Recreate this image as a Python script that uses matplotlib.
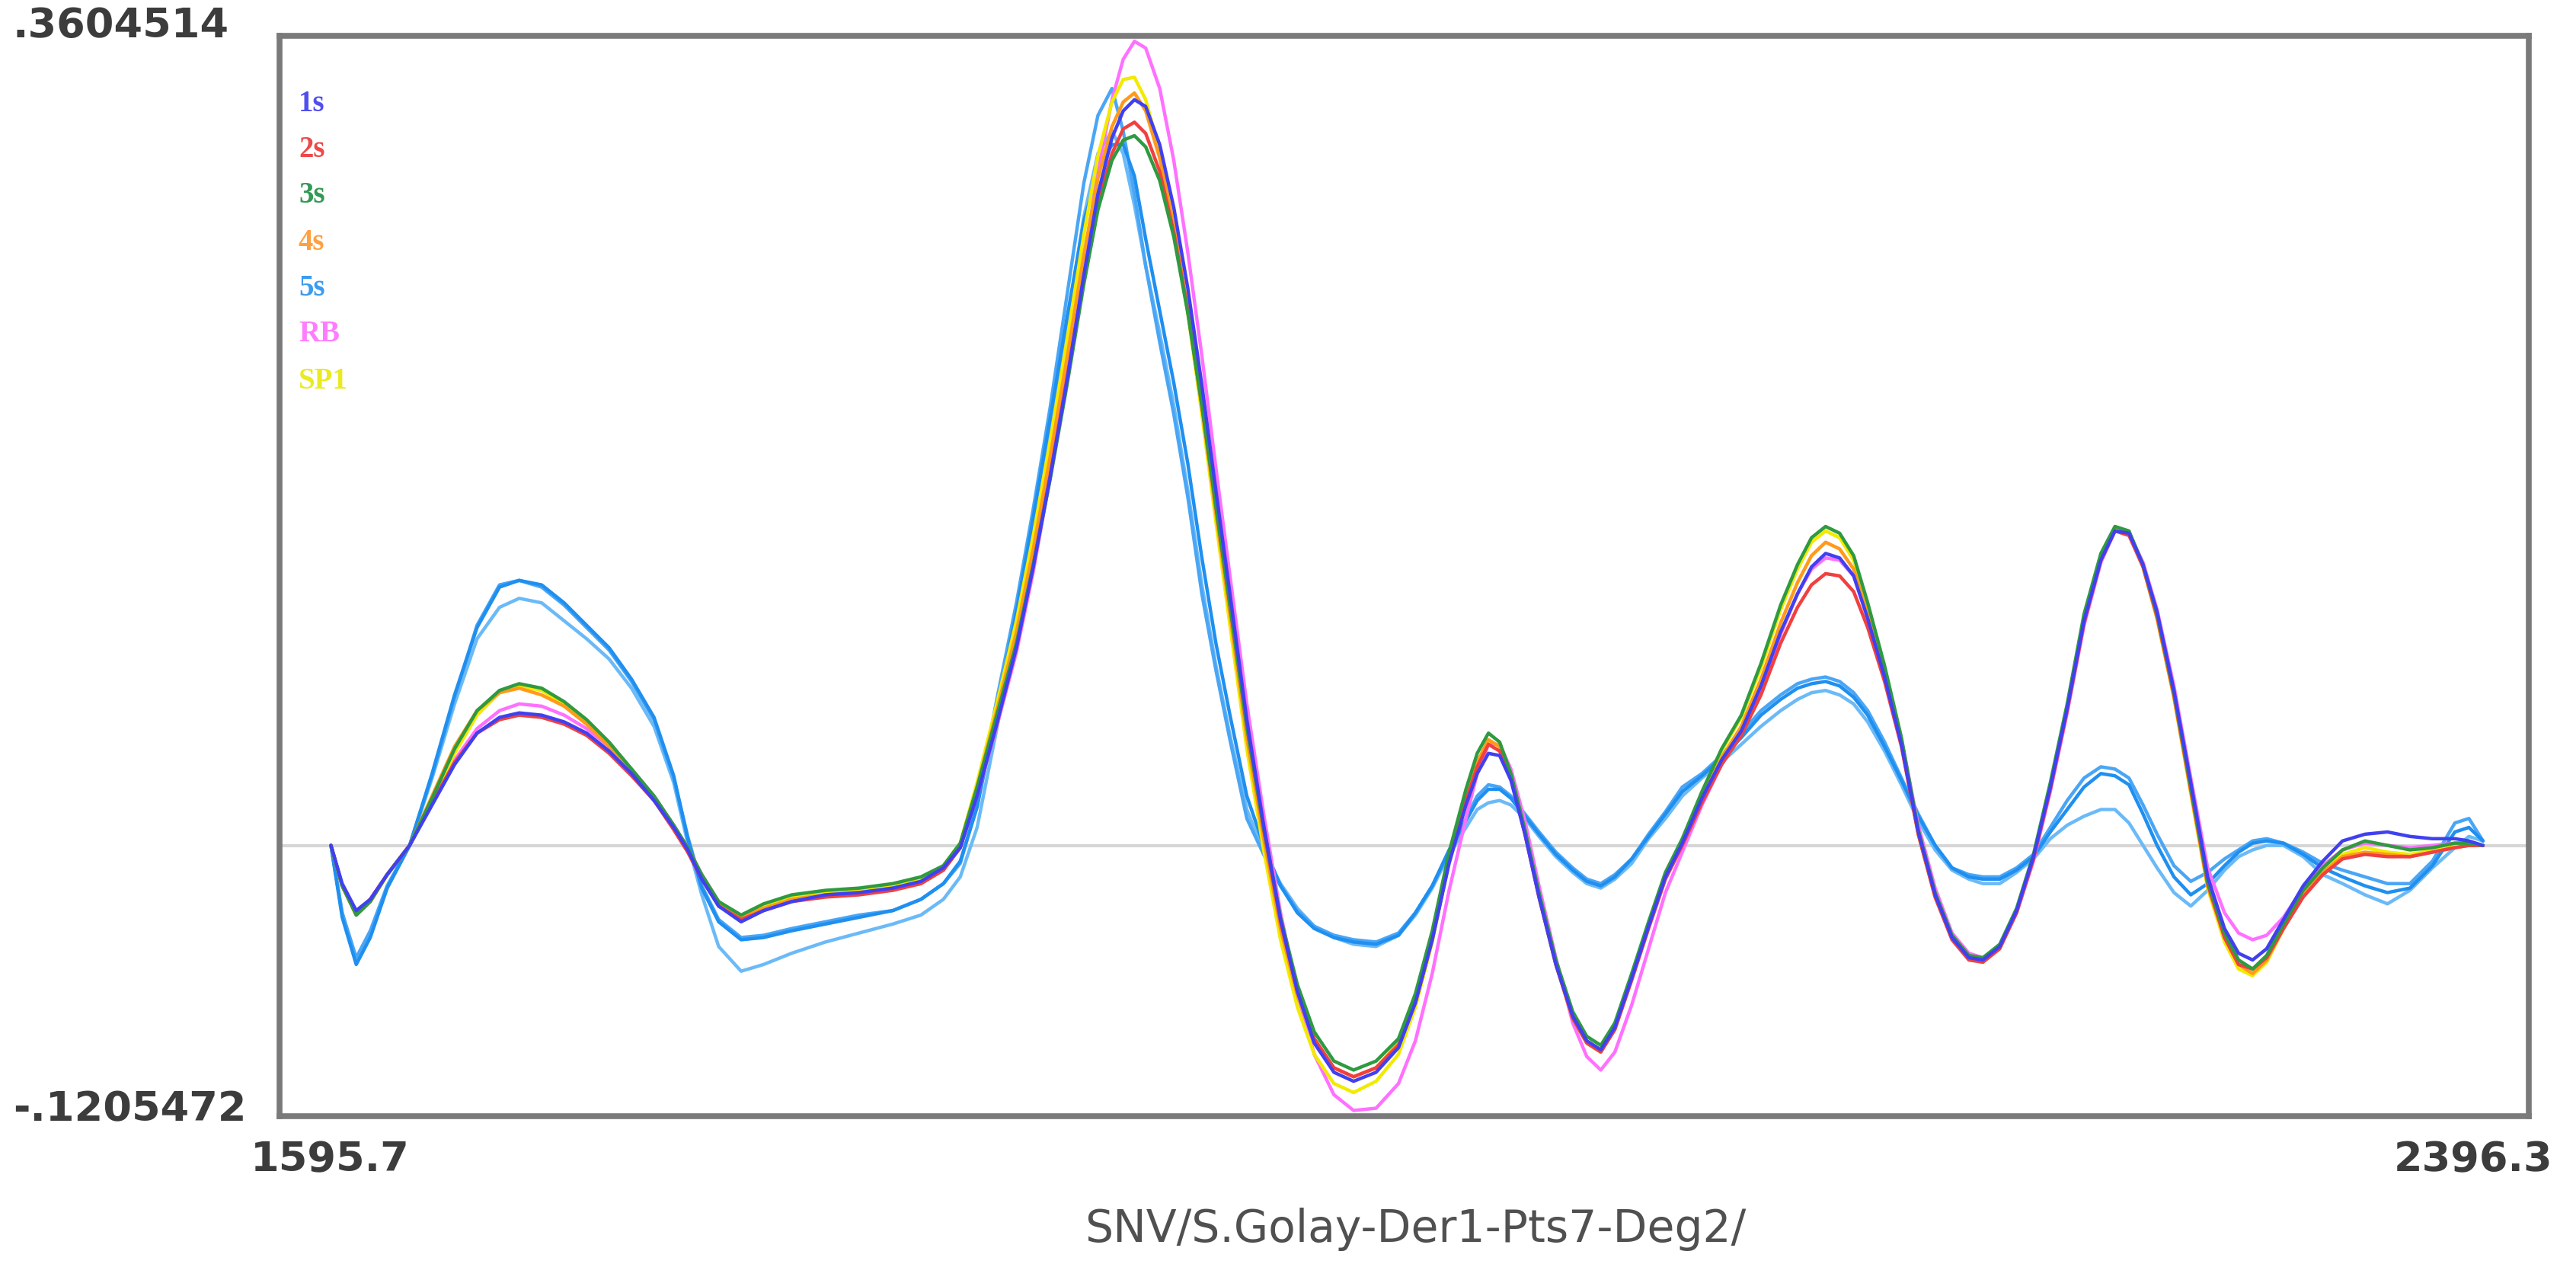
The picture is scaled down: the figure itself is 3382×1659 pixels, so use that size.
import matplotlib
matplotlib.use("Agg")
import matplotlib.pyplot as plt

# ---------------- data ----------------
wavelength = [
    1614, 1618, 1623, 1628, 1634, 1642, 1650, 1658, 1666, 1674,
    1681, 1689, 1697, 1705, 1713, 1721, 1729, 1736, 1741, 1746,
    1752, 1760, 1768, 1778, 1790, 1802, 1814, 1824, 1832, 1838,
    1844, 1851, 1858, 1864, 1870, 1876, 1882, 1887, 1892, 1896,
    1900, 1904, 1909, 1914, 1919, 1924, 1929, 1934, 1940, 1946,
    1952, 1958, 1964, 1971, 1978, 1986, 1994, 2000, 2006, 2012,
    2018, 2022, 2026, 2030, 2034, 2039, 2044, 2050, 2056, 2061,
    2066, 2071, 2077, 2083, 2089, 2095, 2102, 2109, 2116, 2123,
    2130, 2136, 2141, 2146, 2151, 2156, 2161, 2167, 2173, 2179,
    2185, 2191, 2197, 2202, 2208, 2214, 2220, 2226, 2232, 2238,
    2244, 2249, 2254, 2259, 2264, 2270, 2276, 2282, 2288, 2293,
    2298, 2303, 2309, 2316, 2323, 2330, 2338, 2346, 2354, 2362,
    2370, 2375, 2380]

s1 = [
    0.000, -0.017, -0.029, -0.024, -0.013, 0.000, 0.018, 0.036, 0.050, 0.057,
    0.059, 0.058, 0.055, 0.050, 0.042, 0.032, 0.020, 0.008, -0.002, -0.015,
    -0.027, -0.034, -0.029, -0.025, -0.022, -0.021, -0.019, -0.016, -0.010, -0.001,
    0.022, 0.054, 0.088, 0.124, 0.164, 0.207, 0.254, 0.290, 0.315, 0.327,
    0.332, 0.329, 0.312, 0.284, 0.248, 0.205, 0.158, 0.112, 0.056, 0.009,
    -0.033, -0.065, -0.088, -0.101, -0.105, -0.101, -0.090, -0.070, -0.042, -0.008,
    0.018, 0.032, 0.041, 0.040, 0.029, 0.005, -0.023, -0.053, -0.076, -0.087,
    -0.091, -0.081, -0.059, -0.036, -0.014, 0.001, 0.021, 0.038, 0.051, 0.071,
    0.095, 0.112, 0.124, 0.130, 0.128, 0.120, 0.101, 0.075, 0.045, 0.006,
    -0.022, -0.041, -0.050, -0.051, -0.045, -0.029, -0.005, 0.026, 0.061, 0.100,
    0.127, 0.140, 0.139, 0.125, 0.104, 0.069, 0.028, -0.014, -0.037, -0.048,
    -0.051, -0.046, -0.033, -0.018, -0.007, 0.002, 0.005, 0.006, 0.004, 0.003,
    0.003, 0.002, 0.000]

s2 = [
    0.000, -0.018, -0.030, -0.024, -0.013, 0.000, 0.019, 0.037, 0.050, 0.056,
    0.058, 0.057, 0.054, 0.049, 0.041, 0.031, 0.020, 0.007, -0.003, -0.015,
    -0.027, -0.033, -0.029, -0.025, -0.023, -0.022, -0.020, -0.017, -0.011, -0.001,
    0.024, 0.056, 0.089, 0.125, 0.165, 0.208, 0.253, 0.286, 0.308, 0.319,
    0.322, 0.317, 0.300, 0.273, 0.238, 0.196, 0.151, 0.107, 0.053, 0.007,
    -0.034, -0.065, -0.086, -0.099, -0.103, -0.099, -0.089, -0.070, -0.042, -0.007,
    0.020, 0.035, 0.045, 0.042, 0.030, 0.005, -0.023, -0.053, -0.077, -0.088,
    -0.092, -0.082, -0.060, -0.037, -0.015, 0.000, 0.019, 0.036, 0.049, 0.067,
    0.090, 0.106, 0.116, 0.121, 0.120, 0.113, 0.097, 0.073, 0.044, 0.005,
    -0.023, -0.042, -0.051, -0.052, -0.046, -0.030, -0.006, 0.025, 0.060, 0.099,
    0.127, 0.140, 0.138, 0.124, 0.102, 0.067, 0.025, -0.017, -0.041, -0.053,
    -0.055, -0.050, -0.037, -0.023, -0.013, -0.006, -0.004, -0.005, -0.005, -0.003,
    -0.001, 0.000, 0.000]

s3 = [
    0.000, -0.018, -0.031, -0.025, -0.013, 0.000, 0.021, 0.043, 0.060, 0.069,
    0.072, 0.070, 0.064, 0.056, 0.046, 0.034, 0.022, 0.009, -0.001, -0.013,
    -0.025, -0.031, -0.026, -0.022, -0.020, -0.019, -0.017, -0.014, -0.009, 0.001,
    0.026, 0.058, 0.090, 0.125, 0.163, 0.205, 0.250, 0.283, 0.305, 0.314,
    0.316, 0.311, 0.296, 0.271, 0.237, 0.196, 0.151, 0.107, 0.053, 0.008,
    -0.032, -0.062, -0.083, -0.096, -0.100, -0.096, -0.086, -0.066, -0.038, -0.003,
    0.025, 0.041, 0.050, 0.046, 0.032, 0.007, -0.021, -0.051, -0.074, -0.085,
    -0.089, -0.079, -0.057, -0.034, -0.012, 0.003, 0.024, 0.043, 0.058, 0.081,
    0.107, 0.125, 0.137, 0.142, 0.139, 0.129, 0.108, 0.080, 0.048, 0.007,
    -0.021, -0.040, -0.049, -0.050, -0.044, -0.028, -0.004, 0.028, 0.063, 0.103,
    0.130, 0.142, 0.140, 0.125, 0.103, 0.068, 0.026, -0.016, -0.039, -0.051,
    -0.055, -0.049, -0.035, -0.020, -0.010, -0.002, 0.002, 0.000, -0.002, -0.001,
    0.001, 0.001, 0.000]

s4 = [
    0.000, -0.018, -0.031, -0.025, -0.013, 0.000, 0.022, 0.044, 0.060, 0.068,
    0.070, 0.067, 0.062, 0.054, 0.044, 0.033, 0.021, 0.008, -0.002, -0.014,
    -0.026, -0.032, -0.028, -0.024, -0.022, -0.021, -0.019, -0.017, -0.011, -0.001,
    0.026, 0.060, 0.095, 0.132, 0.173, 0.217, 0.263, 0.297, 0.320, 0.331,
    0.335, 0.327, 0.306, 0.276, 0.239, 0.195, 0.148, 0.103, 0.048, 0.003,
    -0.037, -0.067, -0.087, -0.099, -0.103, -0.099, -0.088, -0.069, -0.041, -0.006,
    0.022, 0.037, 0.047, 0.044, 0.031, 0.006, -0.022, -0.052, -0.075, -0.087,
    -0.091, -0.081, -0.059, -0.036, -0.014, 0.001, 0.021, 0.039, 0.053, 0.074,
    0.099, 0.117, 0.129, 0.135, 0.132, 0.123, 0.103, 0.076, 0.045, 0.005,
    -0.023, -0.041, -0.050, -0.051, -0.045, -0.029, -0.005, 0.026, 0.061, 0.100,
    0.128, 0.141, 0.139, 0.124, 0.101, 0.066, 0.024, -0.018, -0.041, -0.053,
    -0.057, -0.051, -0.037, -0.022, -0.012, -0.005, -0.003, -0.004, -0.005, -0.003,
    -0.001, 0.000, 0.000]

s5_a = [
    0.000, -0.030, -0.050, -0.038, -0.018, 0.000, 0.031, 0.066, 0.098, 0.116,
    0.118, 0.115, 0.107, 0.097, 0.087, 0.073, 0.056, 0.030, 0.004, -0.018,
    -0.033, -0.041, -0.040, -0.037, -0.034, -0.031, -0.029, -0.024, -0.017, -0.008,
    0.018, 0.065, 0.108, 0.150, 0.195, 0.245, 0.295, 0.325, 0.337, 0.318,
    0.290, 0.258, 0.224, 0.192, 0.155, 0.112, 0.078, 0.047, 0.012, -0.004,
    -0.018, -0.029, -0.036, -0.040, -0.042, -0.043, -0.039, -0.030, -0.018, -0.003,
    0.012, 0.022, 0.027, 0.026, 0.022, 0.014, 0.006, -0.003, -0.010, -0.015,
    -0.017, -0.013, -0.006, 0.005, 0.015, 0.026, 0.032, 0.040, 0.050, 0.060,
    0.067, 0.072, 0.074, 0.075, 0.073, 0.068, 0.060, 0.046, 0.030, 0.014,
    0.000, -0.010, -0.013, -0.014, -0.014, -0.010, -0.004, 0.008, 0.020, 0.030,
    0.035, 0.034, 0.030, 0.018, 0.005, -0.009, -0.016, -0.012, -0.006, -0.002,
    0.002, 0.003, 0.001, -0.003, -0.008, -0.011, -0.014, -0.017, -0.017, -0.007,
    0.010, 0.012, 0.002]

s5_b = [
    0.000, -0.030, -0.052, -0.040, -0.019, 0.000, 0.030, 0.063, 0.092, 0.106,
    0.110, 0.108, 0.100, 0.092, 0.083, 0.070, 0.053, 0.028, 0.001, -0.022,
    -0.045, -0.056, -0.053, -0.048, -0.043, -0.039, -0.035, -0.031, -0.024, -0.014,
    0.008, 0.052, 0.098, 0.140, 0.185, 0.232, 0.280, 0.308, 0.318, 0.308,
    0.285, 0.258, 0.228, 0.196, 0.158, 0.116, 0.080, 0.049, 0.016, -0.003,
    -0.017, -0.028, -0.036, -0.041, -0.044, -0.045, -0.040, -0.031, -0.019, -0.004,
    0.008, 0.016, 0.019, 0.020, 0.018, 0.012, 0.004, -0.005, -0.012, -0.017,
    -0.019, -0.015, -0.008, 0.003, 0.012, 0.022, 0.030, 0.037, 0.045, 0.053,
    0.060, 0.065, 0.068, 0.069, 0.067, 0.063, 0.055, 0.042, 0.027, 0.011,
    -0.002, -0.011, -0.015, -0.017, -0.017, -0.012, -0.006, 0.003, 0.009, 0.013,
    0.016, 0.016, 0.010, 0.000, -0.010, -0.021, -0.027, -0.020, -0.011, -0.005,
    -0.002, 0.000, 0.000, -0.005, -0.013, -0.017, -0.022, -0.026, -0.020, -0.010,
    -0.001, 0.004, 0.002]

s5_c = [
    0.000, -0.032, -0.053, -0.041, -0.019, 0.000, 0.032, 0.067, 0.097, 0.115,
    0.118, 0.116, 0.108, 0.098, 0.088, 0.074, 0.057, 0.031, 0.003, -0.019,
    -0.034, -0.042, -0.041, -0.038, -0.035, -0.032, -0.029, -0.024, -0.017, -0.007,
    0.017, 0.060, 0.104, 0.146, 0.190, 0.235, 0.278, 0.300, 0.312, 0.312,
    0.298, 0.270, 0.238, 0.206, 0.170, 0.128, 0.090, 0.058, 0.022, 0.000,
    -0.018, -0.030, -0.037, -0.041, -0.043, -0.044, -0.040, -0.030, -0.018, -0.002,
    0.011, 0.020, 0.025, 0.025, 0.021, 0.013, 0.005, -0.004, -0.011, -0.016,
    -0.018, -0.014, -0.006, 0.004, 0.014, 0.024, 0.031, 0.039, 0.048, 0.058,
    0.065, 0.070, 0.072, 0.073, 0.071, 0.066, 0.058, 0.044, 0.029, 0.013,
    0.000, -0.010, -0.014, -0.015, -0.015, -0.011, -0.005, 0.006, 0.016, 0.026,
    0.032, 0.031, 0.027, 0.014, 0.000, -0.014, -0.022, -0.017, -0.009, -0.003,
    0.001, 0.002, 0.001, -0.004, -0.010, -0.014, -0.018, -0.021, -0.019, -0.009,
    0.006, 0.008, 0.002]

rb = [
    0.000, -0.018, -0.030, -0.024, -0.013, 0.000, 0.019, 0.038, 0.052, 0.060,
    0.063, 0.062, 0.058, 0.052, 0.044, 0.034, 0.022, 0.009, -0.001, -0.013,
    -0.025, -0.032, -0.028, -0.024, -0.022, -0.021, -0.019, -0.016, -0.010, -0.001,
    0.022, 0.053, 0.086, 0.122, 0.164, 0.210, 0.260, 0.300, 0.332, 0.350,
    0.358, 0.355, 0.337, 0.305, 0.264, 0.218, 0.168, 0.120, 0.063, 0.014,
    -0.030, -0.066, -0.093, -0.111, -0.118, -0.117, -0.106, -0.087, -0.057, -0.020,
    0.012, 0.032, 0.045, 0.045, 0.034, 0.011, -0.018, -0.050, -0.079, -0.094,
    -0.100, -0.092, -0.071, -0.046, -0.021, -0.003, 0.018, 0.036, 0.050, 0.070,
    0.094, 0.112, 0.123, 0.128, 0.127, 0.120, 0.102, 0.077, 0.047, 0.009,
    -0.019, -0.039, -0.048, -0.050, -0.045, -0.030, -0.007, 0.024, 0.059, 0.098,
    0.126, 0.140, 0.139, 0.126, 0.105, 0.071, 0.030, -0.010, -0.030, -0.039,
    -0.042, -0.040, -0.032, -0.019, -0.009, -0.002, 0.001, 0.000, -0.001, 0.000,
    0.001, 0.001, 0.000]

sp1 = [
    0.000, -0.018, -0.031, -0.025, -0.013, 0.000, 0.020, 0.041, 0.058, 0.068,
    0.071, 0.069, 0.063, 0.055, 0.045, 0.034, 0.021, 0.008, -0.002, -0.014,
    -0.026, -0.032, -0.027, -0.023, -0.021, -0.020, -0.018, -0.015, -0.009, 0.001,
    0.028, 0.063, 0.100, 0.138, 0.180, 0.225, 0.272, 0.307, 0.331, 0.341,
    0.342, 0.332, 0.309, 0.276, 0.237, 0.192, 0.144, 0.098, 0.043, -0.002,
    -0.042, -0.072, -0.093, -0.106, -0.110, -0.105, -0.093, -0.072, -0.043, -0.007,
    0.021, 0.037, 0.047, 0.044, 0.031, 0.006, -0.023, -0.053, -0.077, -0.088,
    -0.092, -0.082, -0.059, -0.035, -0.013, 0.002, 0.023, 0.042, 0.057, 0.079,
    0.105, 0.123, 0.135, 0.140, 0.137, 0.127, 0.106, 0.078, 0.046, 0.005,
    -0.023, -0.041, -0.050, -0.051, -0.045, -0.029, -0.005, 0.026, 0.062, 0.101,
    0.129, 0.141, 0.139, 0.124, 0.101, 0.066, 0.023, -0.019, -0.043, -0.055,
    -0.058, -0.052, -0.037, -0.022, -0.011, -0.004, -0.001, -0.003, -0.004, -0.002,
    0.000, 0.000, 0.000]

legend_labels = ["1s", "2s", "3s", "4s", "5s", "RB", "SP1"]
x_min, x_max = 1595.7, 2396.3
y_min, y_max = -0.1205472, 0.3604514
x_title = "SNV/S.Golay-Der1-Pts7-Deg2/"

# ---------------- styling ----------------
W, H = 3382, 1659
fig = plt.figure(figsize=(W / 100, H / 100), dpi=100)
fig.patch.set_facecolor("white")

ax_l, ax_r, ax_t, ax_b = 367, 3320, 47, 1465
ax = fig.add_axes([ax_l / W, 1 - ax_b / H, (ax_r - ax_l) / W, (ax_b - ax_t) / H])
ax.set_xlim(x_min, x_max)
ax.set_ylim(y_min, y_max)
ax.set_xticks([])
ax.set_yticks([])
for sp in ax.spines.values():
    sp.set_color("#7a7a7a")
    sp.set_linewidth(5.5)

ax.axhline(0, color="#d6d6d6", lw=3, zorder=1)

lw = 3.2
series = [
    (s5_b, "#6bbaf7", 2),
    (s5_a, "#4aa6f5", 2),
    (s5_c, "#1f8ff0", 2),
    (rb, "#ff70ff", 3),
    (sp1, "#f2ea00", 3),
    (s4, "#ff9a1a", 3),
    (s2, "#f04040", 3),
    (s3, "#2f9a40", 3),
    (s1, "#4040f0", 3),
]
for vals, col, z in series:
    ax.plot(wavelength, vals, color=col, lw=lw, zorder=z,
            solid_joinstyle="round", solid_capstyle="round")

# legend (coloured labels only)
leg_colors = ["#5050ee", "#ee4848", "#339955", "#ffa040", "#3a9cf0", "#ff7cff", "#eaea20"]
leg_y = [136, 196, 257, 319, 378, 439, 500]
for lab, col, yy in zip(legend_labels, leg_colors, leg_y):
    fig.text(392 / W, 1 - yy / H, lab, color=col, fontsize=28, fontweight="bold",
             family=["Liberation Serif", "DejaVu Serif"], ha="left", va="center")

num_kw = dict(color="#3c3c3c", fontsize=39, fontweight="bold",
              family=["DejaVu Sans"])
fig.text(17 / W, 1 - 34 / H, ".3604514", ha="left", va="center", **num_kw)
fig.text(17 / W, 1 - 1456 / H, "-.1205472", ha="left", va="center", **num_kw)
fig.text(433 / W, 1 - 1522 / H, "1595.7", ha="center", va="center", **num_kw)
fig.text(3247 / W, 1 - 1522 / H, "2396.3", ha="center", va="center", **num_kw)
fig.text(1858 / W, 1 - 1613 / H, x_title, ha="center", va="center",
         color="#505050", fontsize=42, family=["DejaVu Sans"])

fig.savefig("out.png", dpi=100, facecolor="white")
